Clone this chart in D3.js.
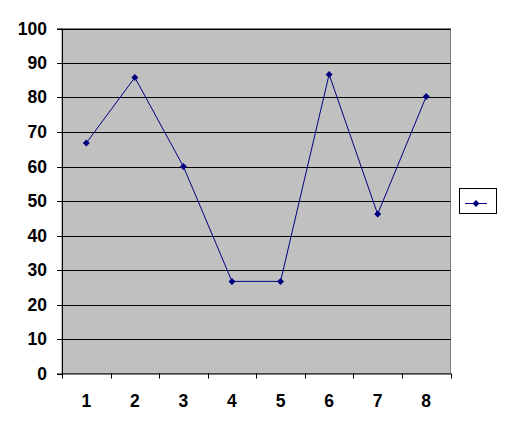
<!DOCTYPE html>
<html><head><meta charset="utf-8">
<script src="https://cdn.jsdelivr.net/npm/d3@7"></script>
<style>body{margin:0;background:#fff}svg{display:block}</style>
</head><body>
<script>
const categories = ["1","2","3","4","5","6","7","8"];
const values = [66.8, 85.8, 60, 26.7, 26.7, 86.7, 46.2, 80.3];
const yTicks = [0,10,20,30,40,50,60,70,80,90,100];

const W = 505, H = 430;
const m = {left: 62, top: 28.5, right: 450.5, bottom: 373.5};
const svg = d3.select("body").append("svg").attr("width", W).attr("height", H);

const x = d3.scaleBand().domain(categories).range([m.left, m.right]).padding(0);
const y = d3.scaleLinear().domain([0, 100]).range([m.bottom, m.top]);

svg.append("rect").attr("x", m.left).attr("y", m.top)
  .attr("width", m.right - m.left).attr("height", m.bottom - m.top)
  .attr("fill", "#c0c0c0").attr("stroke", "#808080").attr("stroke-width", 1);

svg.append("g").selectAll("line").data(yTicks.filter(d => d > 0)).join("line")
  .attr("x1", m.left).attr("x2", m.right)
  .attr("y1", d => Math.round(y(d)) + 0.5).attr("y2", d => Math.round(y(d)) + 0.5)
  .attr("stroke", "#000").attr("stroke-width", 1);

const font = "Liberation Sans, Arial, sans-serif";
const yAxis = svg.append("g").attr("transform", `translate(${m.left},0)`)
  .call(d3.axisLeft(y).tickValues(yTicks).tickSize(5).tickPadding(10));
yAxis.select(".domain").attr("stroke", "#000");
yAxis.selectAll(".tick").attr("transform", d => `translate(0,${Math.round(y(d)) + 0.5})`);
yAxis.selectAll("text").attr("font-family", font)
  .attr("font-size", 17.5).attr("font-weight", "bold").attr("fill", "#000");

const xAxis = svg.append("g").attr("transform", `translate(0,${m.bottom})`)
  .call(d3.axisBottom(x).tickSize(0).tickPadding(21));
xAxis.select(".domain").attr("stroke", "#000");
xAxis.selectAll("text").attr("font-family", font)
  .attr("font-size", 17.5).attr("font-weight", "bold").attr("fill", "#000");
const bounds = categories.map(c => x(c)).concat([x(categories[categories.length-1]) + x.bandwidth()]);
svg.append("g").selectAll("line").data(bounds).join("line")
  .attr("x1", d => Math.round(d) + 0.5).attr("x2", d => Math.round(d) + 0.5)
  .attr("y1", m.bottom).attr("y2", m.bottom + 5).attr("stroke", "#000");

const cx = c => x(c) + x.bandwidth() / 2;
const line = d3.line().x((d, i) => cx(categories[i])).y(d => y(d));
svg.append("path").datum(values).attr("d", line)
  .attr("fill", "none").attr("stroke", "#000080").attr("stroke-width", 1);
const diamond = "M0,-3.5L3.5,0L0,3.5L-3.5,0Z";
svg.append("g").selectAll("path").data(values).join("path")
  .attr("d", diamond)
  .attr("transform", (d, i) => `translate(${cx(categories[i])},${y(d)})`)
  .attr("fill", "#000080");

const lg = svg.append("g");
lg.append("rect").attr("x", 459.5).attr("y", 188.5).attr("width", 37).attr("height", 25)
  .attr("fill", "#fff").attr("stroke", "#000").attr("stroke-width", 1);
lg.append("line").attr("x1", 465).attr("x2", 487).attr("y1", 203.5).attr("y2", 203.5)
  .attr("stroke", "#000080");
lg.append("path").attr("d", diamond).attr("transform", "translate(476,203.5)").attr("fill", "#000080");
</script>
</body></html>
